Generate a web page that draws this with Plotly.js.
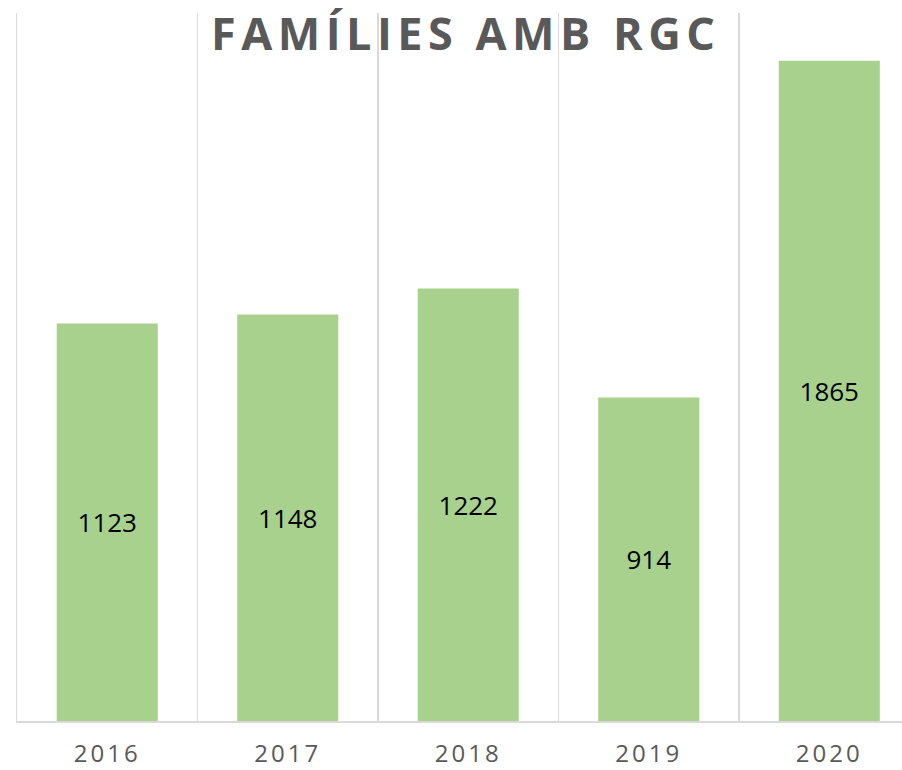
<!DOCTYPE html>
<html>
<head>
<meta charset="utf-8">
<script src="https://cdn.plot.ly/plotly-3.0.1.min.js"></script>
<style>
html, body { margin: 0; padding: 0; background: #fff; }
#chart { width: 902px; height: 770px; }
.gtitle { letter-spacing: 5.5px; }
.xtick text { letter-spacing: 3px; }
</style>
</head>
<body>
<div id="chart"></div>
<script>
const years = ['2016', '2017', '2018', '2019', '2020'];
const families = [1123, 1148, 1222, 914, 1865];
const labels = families.map(v => String(v));
const chartTitle = 'FAMÍLIES AMB RGC';

const trace = {
  type: 'bar',
  x: years,
  y: families,
  text: labels,
  textposition: 'inside',
  insidetextanchor: 'middle',
  textangle: 0,
  constraintext: 'none',
  textfont: { family: 'Open Sans', size: 26, color: '#000000' },
  marker: { color: '#a9d18e', line: { width: 0 } },
  hoverinfo: 'skip'
};

const layout = {
  width: 902,
  height: 770,
  margin: { l: 17, r: 0, t: 13, b: 49 },
  paper_bgcolor: '#ffffff',
  plot_bgcolor: '#ffffff',
  bargap: 0.44,
  showlegend: false,
  title: {
    text: chartTitle,
    font: { family: 'Open Sans', size: 45, weight: 700, color: '#595959' },
    xref: 'paper',
    x: 0.507,
    xanchor: 'center',
    yref: 'container',
    y: 0.955,
    yanchor: 'middle'
  },
  xaxis: {
    type: 'category',
    range: [-0.5, 4.403],
    tickson: 'boundaries',
    showgrid: true,
    gridcolor: '#d9d9d9',
    gridwidth: 1.5,
    showline: true,
    linecolor: '#d9d9d9',
    linewidth: 1.5,
    ticks: '',
    ticklabelstandoff: 11,
    tickfont: { family: 'Open Sans', size: 24, color: '#595959' },
    fixedrange: true
  },
  yaxis: {
    range: [0, 2000],
    showline: true,
    linecolor: '#d9d9d9',
    linewidth: 1.5,
    showticklabels: false,
    ticks: '',
    showgrid: false,
    zeroline: false,
    fixedrange: true
  }
};

Plotly.newPlot('chart', [trace], layout, { displayModeBar: false, staticPlot: true });
</script>
</body>
</html>
